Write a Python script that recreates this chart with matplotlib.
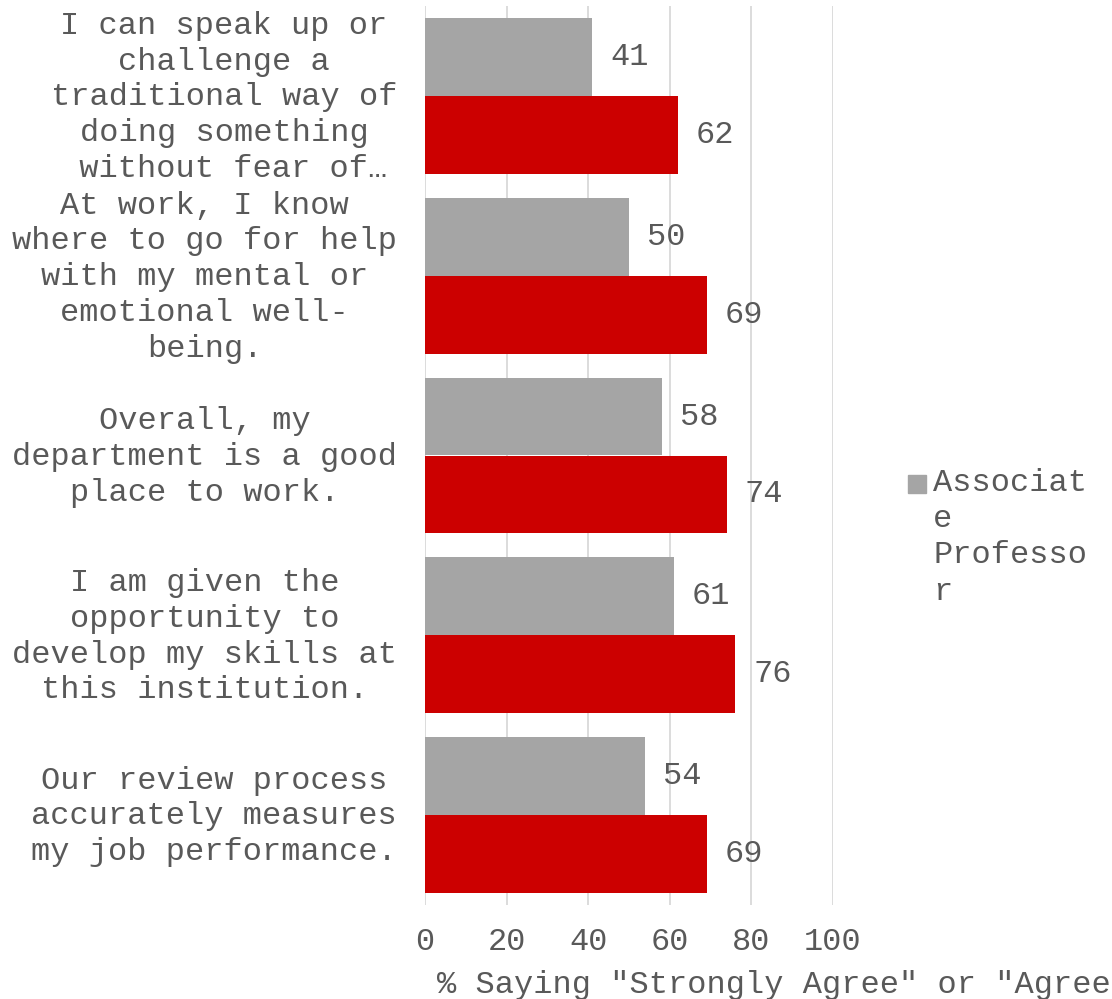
import matplotlib.pyplot as plt
import matplotlib.transforms as mtransforms
from matplotlib.patches import Rectangle
import numpy as np

questions = [
    "I can speak up or\nchallenge a\ntraditional way of\ndoing something\n without fear of\u2026",
    "At work, I know\nwhere to go for help\nwith my mental or\nemotional well-\nbeing.",
    "Overall, my\ndepartment is a good\nplace to work.",
    "I am given the\nopportunity to\ndevelop my skills at\nthis institution.",
    "Our review process\naccurately measures\nmy job performance.",
]
associate = [41, 50, 58, 61, 54]
full = [62, 69, 74, 76, 69]
xticks = [0, 20, 40, 60, 80, 100]

txt = '#595959'
plt.rcParams['font.family'] = ['Liberation Mono', 'DejaVu Sans Mono']
plt.rcParams['font.size'] = 23

W, H = 1112, 999
fig = plt.figure(figsize=(W / 100, H / 100), dpi=100)
ax = fig.add_axes([425 / W, (H - 905) / H, 408 / W, 899 / H])

y = np.arange(len(questions))
h = 78 / 180
b1 = ax.barh(y - h / 2, associate, height=h, color='#A5A5A5', zorder=2)
b2 = ax.barh(y + h / 2, full, height=h, color='#CC0000', zorder=2)
ax.bar_label(b1, labels=[str(v) for v in associate], padding=13, color=txt, fontsize=23)
ax.bar_label(b2, labels=[str(v) for v in full], padding=13, color=txt, fontsize=23)

ax.set_xlim(0, 100)
ax.set_ylim(len(questions) - 0.5, -0.5)
ax.set_xticks(xticks)
ax.set_yticks(y)
ax.set_yticklabels(questions, multialignment='center', linespacing=1.25)
ax.tick_params(axis='y', length=0, pad=20, colors=txt)
ax.tick_params(axis='x', length=0, pad=16, colors=txt)
# nudge the wrapped category labels up a little
shift = mtransforms.ScaledTranslation(0, 5 / 100, fig.dpi_scale_trans)
for lab in ax.get_yticklabels():
    lab.set_transform(lab.get_transform() + shift)
ax.grid(axis='x', color='#D9D9D9', linewidth=1.3, zorder=0)
for s in ax.spines.values():
    s.set_visible(False)

fig.text(437 / W, 1 - 985 / H, '% Saying "Strongly Agree" or "Agree"',
         color=txt, fontsize=23, ha='left', va='center')

# legend entry, wrapped like the narrow legend box
fig.patches.append(Rectangle((908 / W, 1 - 493 / H), 18 / W, 18 / H,
                             transform=fig.transFigure, color='#A5A5A5'))
fig.text(933 / W, 1 - 468 / H, 'Associat\ne\nProfesso\nr', color=txt,
         fontsize=23, ha='left', va='top', linespacing=1.27)

fig.savefig('out.png', dpi=100)
